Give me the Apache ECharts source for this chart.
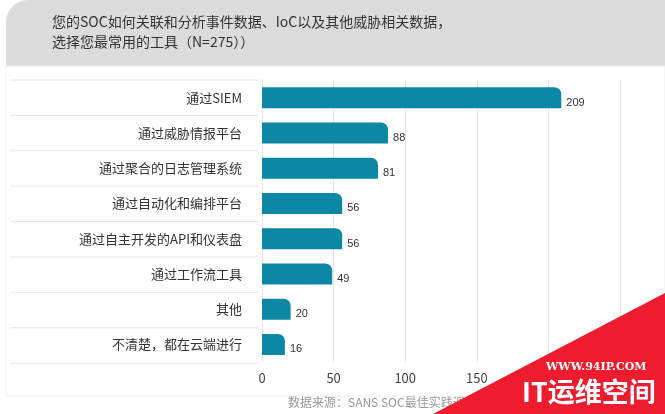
<!DOCTYPE html>
<html><head><meta charset="utf-8">
<script src="https://cdn.jsdelivr.net/npm/echarts@6/dist/echarts.min.js"></script>
<style>html,body{margin:0;padding:0;background:#fff}#c{width:665px;height:414px}</style>
</head><body><div id="c"></div>
<script>
const categories = ['通过SIEM', '通过威胁情报平台', '通过聚合的日志管理系统', '通过自动化和编排平台', '通过自主开发的API和仪表盘', '通过工作流工具', '其他', '不清楚，都在云端进行'];
const values = [209, 88, 81, 56, 56, 49, 20, 16];
const xTicks = [0, 50, 100, 150, 200, 250];

const chart = echarts.init(document.getElementById('c'));
const font = '"Noto Sans CJK SC", sans-serif';
const rowLines = [];
for (let i = 0; i <= categories.length; i++) {
    rowLines.push({ type: 'line', shape: { x1: 10, y1: 80 + i * 35.4, x2: 258, y2: 80 + i * 35.4 }, style: { stroke: '#e6e6e6', lineWidth: 1 } });
}
chart.setOption({
    textStyle: { fontFamily: font },
    graphic: [
        { type: 'rect', shape: { x: 6, y: 0, width: 664, height: 66, r: [22, 0, 0, 0] }, style: { fill: '#dcdcdc' } },
        { type: 'text', left: 52, top: 12, style: { text: '您的SOC如何关联和分析事件数据、IoC以及其他威胁相关数据，\n选择您最常用的工具（N=275））', font: '14px ' + font, fill: '#333', lineHeight: 20 } },
        { type: 'rect', shape: { x: 6, y: 66, width: 659, height: 330 }, style: { fill: 'none', stroke: '#eeeeee' } },
        ...rowLines,
        { type: 'text', left: 288, top: 396, style: { text: '数据来源：SANS SOC最佳实践调查', font: '12px ' + font, fill: '#999' } },
        { type: 'polygon', z: 100, shape: { points: [[433, 414], [665, 293], [665, 414]] }, style: { fill: '#ee1c2e' } },
        { type: 'text', z: 101, left: 546, top: 362, style: { text: 'WWW.94IP.COM', font: 'bold 11px "DejaVu Serif"', fill: '#fff' } },
        { type: 'text', z: 101, left: 522, top: 378, style: { text: 'IT运维空间', font: 'bold 27px ' + font, fill: '#fff' } }
    ],
    grid: { left: 262, right: 45, top: 80, bottom: 52 },
    xAxis: {
        type: 'value', min: 0, max: 250, interval: 50,
        axisLine: { show: false }, axisTick: { show: false },
        axisLabel: { color: '#444', fontSize: 13, margin: 10, formatter: v => xTicks.includes(v) && v < 250 ? v : '' },
        splitLine: { lineStyle: { color: '#e4e4e4' } }
    },
    yAxis: {
        type: 'category', data: categories, inverse: true,
        axisLine: { lineStyle: { color: '#e4e4e4' } }, axisTick: { show: false },
        axisLabel: { color: '#333', fontSize: 13, margin: 20 }
    },
    series: [{
        type: 'bar', data: values, barWidth: 21, z: 1,
        itemStyle: { color: '#0d87a6', borderRadius: [0, 7, 0, 0] },
        label: { show: true, position: 'right', offset: [0, 5], color: '#333', fontSize: 11, fontFamily: '"Liberation Sans Narrow", sans-serif' }
    }]
});
</script></body></html>
